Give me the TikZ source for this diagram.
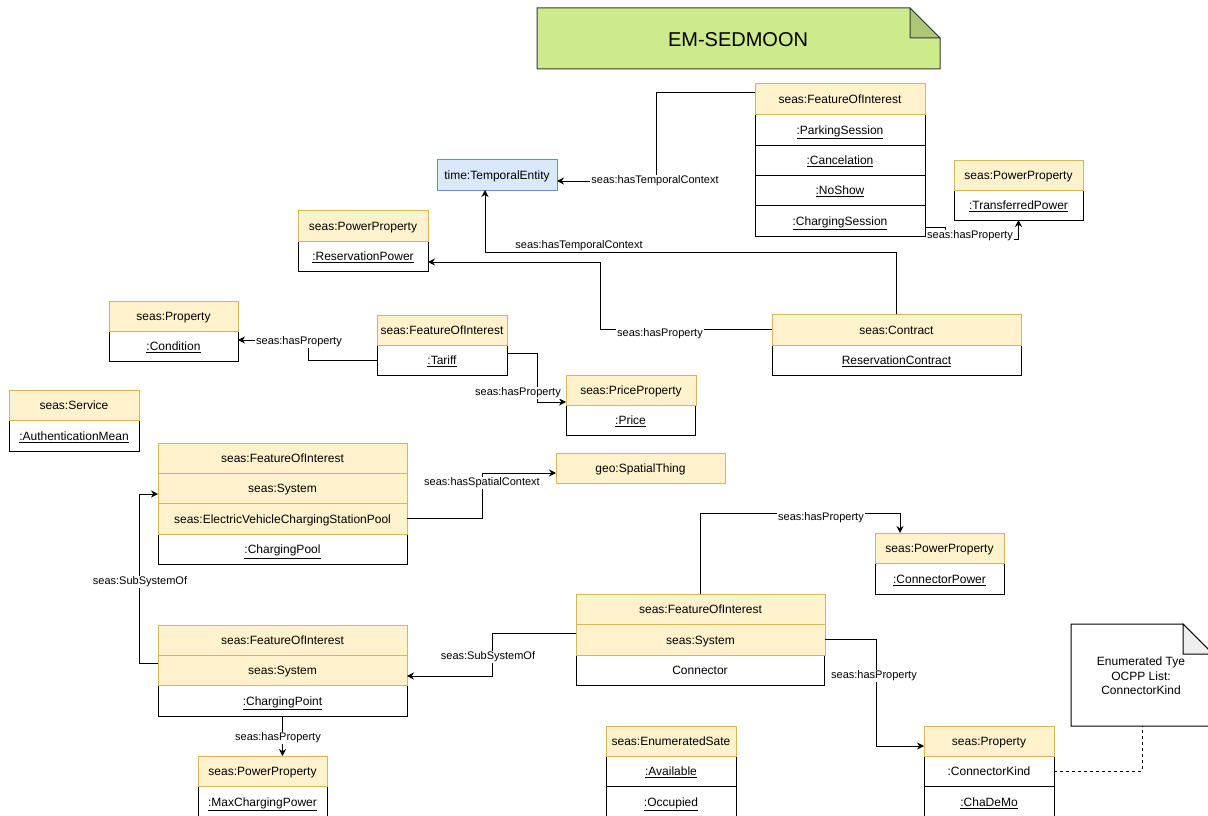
\documentclass[tikz,border=0pt]{standalone}
\usepackage{fontspec}
\setmainfont{Liberation Sans}
\usetikzlibrary{arrows.meta,calc}

\definecolor{hdrfill}{HTML}{FFF2CC}
\definecolor{hdredge}{HTML}{D6B656}
\definecolor{tefill}{HTML}{DAE8FC}
\definecolor{teedge}{HTML}{6C8EBF}
\definecolor{titlefill}{HTML}{CDEB8B}
\definecolor{titleedge}{HTML}{36393D}
\definecolor{foldgray}{HTML}{EEEEEE}

\tikzset{
  umlbase/.style={draw, line width=1pt, inner sep=0pt, outer sep=0pt,
    font=\fontsize{12}{14.4}\selectfont, align=center,
    text height=10.9pt, text depth=1.2pt},
  hdrcell/.style={umlbase, fill=hdrfill, draw=hdredge},
  valcell/.style={umlbase, fill=white, draw=black},
  tecell/.style={umlbase, fill=tefill, draw=teedge},
  relarrow/.style={draw=black, line width=1pt, -{Stealth[length=7pt,width=7pt]}},
  relline/.style={draw=black, line width=1pt},
  rellabel/.style={fill=white, inner sep=1pt, font=\fontsize{11}{13}\selectfont},
}

% one compartment of a class box: name, x1, y1, x2, y2, style, text
\newcommand\umlcell[7]{\node[#6, anchor=north west, minimum width={#4-#2},
  minimum height={#5-#3}] (#1) at (#2,#3) {#7};}
\newcommand\ulc[1]{\underline{#1}}

\begin{document}
\begin{tikzpicture}[x=1pt,y=-1pt]
\fill[white] (0,0) rectangle (1208,816);
\useasboundingbox (0,0) rectangle (1208,816);

% ---------- title note ----------
\draw[fill=titlefill, draw=titleedge, line width=1pt]
  (537,8) -- (910,8) -- (940,38) -- (940,69) -- (537,69) -- cycle;
\draw[fill=titlefill!85!black, draw=titleedge, line width=1pt]
  (910,8) -- (910,38) -- (940,38) -- cycle;
\node[inner sep=0pt, font=\fontsize{20}{24}\selectfont] (title) at (738,39.5) {EM-SEDMOON};

% ---------- class boxes ----------
% sessions
\umlcell{sessA}{755}{114}{925}{145}{valcell}{\ulc{:ParkingSession}}
\umlcell{sessB}{755}{145}{925}{175}{valcell}{\ulc{:Cancelation}}
\umlcell{sessC}{755}{175}{925}{205}{valcell}{\ulc{:NoShow}}
\umlcell{sessD}{755}{205}{925}{236}{valcell}{\ulc{:ChargingSession}}
\umlcell{sessH}{755}{84}{925}{114}{hdrcell}{seas:FeatureOfInterest}

\umlcell{temporal}{437}{159}{557}{190}{tecell}{time:TemporalEntity}

\umlcell{transPowV}{954}{190}{1083}{220}{valcell}{\ulc{:TransferredPower}}
\umlcell{transPowH}{954}{160}{1083}{190}{hdrcell}{seas:PowerProperty}

\umlcell{resPowV}{298}{241}{428}{271}{valcell}{\ulc{:ReservationPower}}
\umlcell{resPowH}{298}{210}{428}{241}{hdrcell}{seas:PowerProperty}

\umlcell{condV}{109}{331}{238}{361}{valcell}{\ulc{:Condition}}
\umlcell{condH}{109}{301}{238}{331}{hdrcell}{seas:Property}

\umlcell{tariffV}{377}{345}{507}{375}{valcell}{\ulc{:Tariff}}
\umlcell{tariffH}{377}{315}{507}{345}{hdrcell}{seas:FeatureOfInterest}

\umlcell{contractV}{772}{345}{1021}{375}{valcell}{\ulc{ReservationContract}}
\umlcell{contractH}{772}{314}{1021}{345}{hdrcell}{seas:Contract}

\umlcell{priceV}{566}{405}{695}{435}{valcell}{\ulc{:Price}}
\umlcell{priceH}{566}{375}{696}{405}{hdrcell}{seas:PriceProperty}

\umlcell{serviceV}{9}{420}{139}{451}{valcell}{\ulc{:AuthenticationMean}}
\umlcell{serviceH}{9}{390}{139}{420}{hdrcell}{seas:Service}

% charging pool
\umlcell{poolV}{158}{534}{407}{564}{valcell}{\ulc{:ChargingPool}}
\umlcell{poolC}{158}{503}{407}{534}{hdrcell}{seas:ElectricVehicleChargingStationPool}
\umlcell{poolB}{158}{473}{407}{503}{hdrcell}{seas:System}
\umlcell{poolA}{158}{443}{407}{473}{hdrcell}{seas:FeatureOfInterest}

\umlcell{spatial}{556}{453}{725}{483}{hdrcell}{geo:SpatialThing}

\umlcell{connPowV}{875}{563}{1004}{594}{valcell}{\ulc{:ConnectorPower}}
\umlcell{connPowH}{875}{533}{1004}{563}{hdrcell}{seas:PowerProperty}

% connector
\umlcell{connV}{576}{655}{824}{685}{valcell}{Connector}
\umlcell{connS}{576}{624}{825}{655}{hdrcell}{seas:System}
\umlcell{connH}{576}{594}{825}{624}{hdrcell}{seas:FeatureOfInterest}

% charging point
\umlcell{pointV}{158}{685}{407}{716}{valcell}{\ulc{:ChargingPoint}}
\umlcell{pointS}{158}{655}{407}{685}{hdrcell}{seas:System}
\umlcell{pointH}{158}{625}{407}{655}{hdrcell}{seas:FeatureOfInterest}

\umlcell{maxPowV}{198}{786}{327}{817}{valcell}{\ulc{:MaxChargingPower}}
\umlcell{maxPowH}{198}{756}{327}{786}{hdrcell}{seas:PowerProperty}

\umlcell{enumA}{606}{756}{736}{786}{valcell}{\ulc{:Available}}
\umlcell{enumB}{606}{786}{736}{817}{valcell}{\ulc{:Occupied}}
\umlcell{enumH}{606}{726}{736}{756}{hdrcell}{seas:EnumeratedSate}

\umlcell{kindA}{924}{756}{1054}{786}{valcell}{:ConnectorKind}
\umlcell{kindB}{924}{786}{1054}{817}{valcell}{\ulc{:ChaDeMo}}
\umlcell{kindH}{924}{726}{1054}{756}{hdrcell}{seas:Property}

% ---------- comment note ----------
\draw[fill=white, draw=black, line width=1pt]
  (1071,624) -- (1183,624) -- (1213,654) -- (1213,726) -- (1071,726) -- cycle;
\draw[fill=foldgray, draw=black, line width=1pt]
  (1183,624) -- (1183,654) -- (1213,654) -- cycle;
\node[anchor=north west, minimum width=142, minimum height=102, inner sep=0pt,
  outer sep=0pt, align=center, font=\fontsize{12}{14.4}\selectfont]
  (kindnote) at (1071,624) {};
\node[align=center, inner sep=0pt, font=\fontsize{12}{14.4}\selectfont]
  (kindtext) at (1141,676) {Enumerated Tye\\OCPP List:\\ConnectorKind};

% ---------- relations ----------
\draw[relarrow] ($(sessH.west)+(0,-6)$) -| (656,181) -- ($(temporal.east)+(0,6.5)$);
\draw[relarrow] (contractH.north) |- ($(temporal.south)+(-12,62)$) -- ($(temporal.south)+(-12,0)$);
\draw[relarrow] (contractH.west) -| (600,262) -- ($(resPowV.east)+(0,6)$);
\draw[relarrow] (tariffV.west) -| (308,340) -- ($(condV.east)+(0,-6)$);
\draw[relarrow] ($(tariffV.east)+(0,-7)$) -| (537,402) -- ($(priceH.west)+(0,12)$);
\draw[relarrow] (poolC.east) -| (482,473) -- ($(spatial.west)+(0,5)$);
\draw[relarrow] ($(pointS.west)+(0,-7)$) -| (139,494) -- ($(poolB.west)+(0,6)$);
\draw[relarrow] ($(connS.west)+(0,-6.5)$) -| (492,676) -- ($(pointS.east)+(0,6)$);
\draw[relarrow] (pointV.south) -- (maxPowH.north -| pointV.south);
\draw[relarrow] (connH.north) |- ($(connPowH.north)+(-39.5,-20)$) -- ($(connPowH.north)+(-39.5,0)$);
\draw[relarrow] (connS.east) -| (876,746) -- ($(kindH.west)+(0,5)$);
\draw[relarrow] ($(sessD.east)+(0,7)$) -| (945,239) -| (transPowV.south);
\draw[relline, dash pattern=on 3pt off 3pt] (kindA.east) -| (kindnote.south);

% ---------- relation labels ----------
\node[rellabel] (lbA) at (655,181) {seas:hasTemporalContext};
\node[rellabel] (lbB) at (579,246) {seas:hasTemporalContext};
\node[rellabel] (lbC) at (660,334) {seas:hasProperty};
\node[rellabel] (lbD) at (299,342) {seas:hasProperty};
\node[rellabel] (lbE) at (518,393) {seas:hasProperty};
\node[rellabel] (lbF) at (482,483) {seas:hasSpatialContext};
\node[rellabel] (lbG) at (140,582) {seas:SubSystemOf};
\node[rellabel] (lbH) at (488,657) {seas:SubSystemOf};
\node[rellabel] (lbI) at (278,738) {seas:hasProperty};
\node[rellabel] (lbJ) at (821,518) {seas:hasProperty};
\node[rellabel] (lbK) at (874,676) {seas:hasProperty};
\node[rellabel] (lbL) at (970,236) {seas:hasProperty};
\end{tikzpicture}
\end{document}
